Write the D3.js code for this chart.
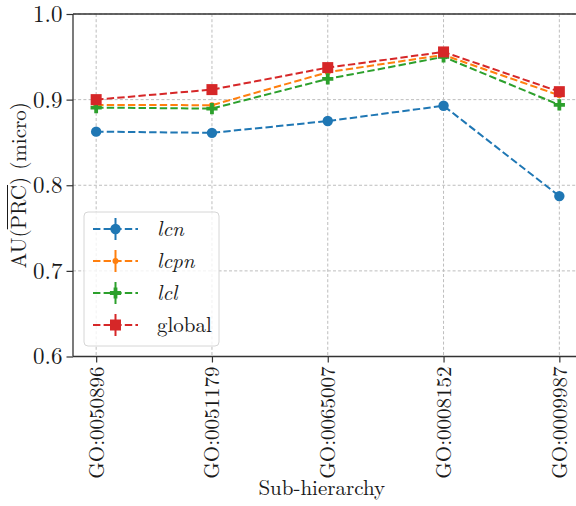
<!DOCTYPE html>
<html>
<head>
<meta charset="utf-8">
<script src="https://cdn.jsdelivr.net/npm/d3@7"></script>
<style>
  body { margin: 0; background: #fff; }
</style>
</head>
<body>
<div id="chart"></div>
<script>
const categories = ['GO:0050896', 'GO:0051179', 'GO:0065007', 'GO:0008152', 'GO:0009987'];
const lcnValues = [0.8626, 0.8612, 0.8750, 0.8928, 0.7873];
const lcpnValues = [0.8938, 0.8935, 0.9320, 0.9522, 0.9050];
const lclValues = [0.8907, 0.8895, 0.9242, 0.9499, 0.8938];
const globalValues = [0.9000, 0.9117, 0.9374, 0.9557, 0.9093];
const yTicks = [0.6, 0.7, 0.8, 0.9, 1.0];

const series = [
  { name: 'lcn', italic: true, color: '#1f77b4', marker: 'circle', values: lcnValues },
  { name: 'lcpn', italic: true, color: '#ff7f0e', marker: 'point', values: lcpnValues },
  { name: 'lcl', italic: true, color: '#2ca02c', marker: 'plus', values: lclValues },
  { name: 'global', italic: false, color: '#d62728', marker: 'square', values: globalValues }
];

const FONT = "'Latin Modern Roman', 'CMU Serif', 'Liberation Serif', serif";
const FS = '21px';
const TEXT = '#1a1a1a';

const width = 576;
const height = 506;
const margin = { top: 14, left: 73 };
const plotRight = 582.5;
const plotBottom = 356.5;

const svg = d3.select('#chart').append('svg')
  .attr('width', width)
  .attr('height', height);

const x = d3.scaleLinear()
  .domain([-0.2, categories.length - 1 + 0.2])
  .range([margin.left, plotRight]);
const y = d3.scaleLinear()
  .domain([0.6, 1.0])
  .range([plotBottom, margin.top]);

function styleText(sel) {
  sel.style('font-family', FONT).style('font-size', FS).style('fill', TEXT);
}

// grid
const grid = svg.append('g');
grid.selectAll('.vg')
  .data(categories)
  .join('line')
  .attr('x1', (d, i) => x(i)).attr('x2', (d, i) => x(i))
  .attr('y1', margin.top).attr('y2', plotBottom);
grid.selectAll('.hg')
  .data(yTicks)
  .join('line')
  .attr('x1', margin.left).attr('x2', plotRight)
  .attr('y1', d => y(d)).attr('y2', d => y(d));
grid.selectAll('line')
  .attr('stroke', '#bdbdbd')
  .attr('stroke-width', 1)
  .attr('stroke-dasharray', '3,2.2');

// axes
const yAxis = svg.append('g')
  .attr('transform', `translate(${margin.left},0)`)
  .call(d3.axisLeft(y).tickValues(yTicks).tickFormat(d3.format('.1f')).tickSize(6.5).tickPadding(4));
const xAxis = svg.append('g')
  .attr('transform', `translate(0,${plotBottom})`)
  .call(d3.axisBottom(x).tickValues(d3.range(categories.length)).tickFormat(i => categories[i]).tickSize(6));

[yAxis, xAxis].forEach(ax => {
  ax.select('.domain').remove();
  ax.selectAll('.tick line').attr('stroke', '#333').attr('stroke-width', 1.2);
  ax.selectAll('text').call(styleText);
});
yAxis.selectAll('text').attr('dy', '0.32em').style('font-size', '23px');
xAxis.selectAll('text')
  .attr('transform', 'rotate(-90)')
  .attr('text-anchor', 'end')
  .attr('x', -10)
  .attr('y', 0)
  .attr('dy', '0.33em');

// spines
const spines = svg.append('g')
  .attr('stroke', '#333')
  .attr('stroke-width', 1.3);
spines.append('line')
  .attr('x1', margin.left).attr('x2', margin.left)
  .attr('y1', margin.top).attr('y2', plotBottom);
spines.append('line')
  .attr('x1', margin.left).attr('x2', width)
  .attr('y1', margin.top).attr('y2', margin.top);
spines.append('line')
  .attr('x1', margin.left).attr('x2', width)
  .attr('y1', plotBottom).attr('y2', plotBottom);

// markers
function drawMarker(sel, type, color) {
  if (type === 'circle') {
    sel.append('circle').attr('r', 5.2).attr('fill', color);
  } else if (type === 'point') {
    sel.append('circle').attr('r', 3).attr('fill', color);
  } else if (type === 'square') {
    sel.append('rect').attr('x', -5.5).attr('y', -5.5).attr('width', 11).attr('height', 11).attr('fill', color);
  } else if (type === 'plus') {
    sel.append('path')
      .attr('d', 'M-1.9,-5.6H1.9V-1.9H5.6V1.9H1.9V5.6H-1.9V1.9H-5.6V-1.9H-1.9Z')
      .attr('fill', color);
  }
}

const line = d3.line()
  .x((d, i) => x(i))
  .y(d => y(d));

const plot = svg.append('g');
series.forEach(s => {
  const g = plot.append('g');
  g.append('path')
    .datum(s.values)
    .attr('d', line)
    .attr('fill', 'none')
    .attr('stroke', s.color)
    .attr('stroke-width', 2)
    .attr('stroke-dasharray', '7.4,3.2');
  g.selectAll('.pt')
    .data(s.values)
    .join('g')
    .attr('transform', (d, i) => `translate(${x(i)},${y(d)})`)
    .each(function() { drawMarker(d3.select(this), s.marker, s.color); });
});

// legend
const legend = svg.append('g').attr('transform', 'translate(84,212)');
legend.append('rect')
  .attr('width', 135).attr('height', 134)
  .attr('rx', 4)
  .attr('fill', '#fff').attr('fill-opacity', 0.8)
  .attr('stroke', '#d6d6d6').attr('stroke-width', 1);
series.forEach((s, i) => {
  const row = legend.append('g').attr('transform', `translate(0,${17 + i * 32})`);
  row.append('line')
    .attr('x1', 9).attr('x2', 54)
    .attr('stroke', s.color).attr('stroke-width', 2)
    .attr('stroke-dasharray', '7.4,3.2');
  row.append('line')
    .attr('x1', 31.5).attr('x2', 31.5).attr('y1', -11).attr('y2', 11)
    .attr('stroke', s.color).attr('stroke-width', 2);
  drawMarker(row.append('g').attr('transform', 'translate(31.5,0)'), s.marker, s.color);
  row.append('text')
    .attr('x', 73).attr('dy', '0.33em')
    .call(styleText)
    .style('font-style', s.italic ? 'italic' : 'normal')
    .text(s.name);
});

// axis labels
svg.append('text')
  .attr('x', (margin.left + plotRight) / 2 - 6)
  .attr('y', 495)
  .attr('text-anchor', 'middle')
  .call(styleText)
  .text('Sub-hierarchy');

const ylPos = `translate(26,${(margin.top + plotBottom) / 2}) rotate(-90)`;
const yl = svg.append('text')
  .attr('transform', ylPos)
  .attr('text-anchor', 'middle')
  .call(styleText);
yl.append('tspan').text('AU(');
yl.append('tspan').text('PRC');
yl.append('tspan').text(') (micro)');

// overline over PRC
const bar = svg.append('line')
  .attr('transform', ylPos)
  .attr('y1', -18.5).attr('y2', -18.5)
  .attr('stroke', TEXT).attr('stroke-width', 1);
function placeBar() {
  const node = yl.node();
  const total = node.getComputedTextLength();
  const start = node.getSubStringLength(0, 3);
  const len = node.getSubStringLength(3, 3);
  bar.attr('x1', -total / 2 + start).attr('x2', -total / 2 + start + len);
}
placeBar();
if (document.fonts) document.fonts.ready.then(placeBar);
</script>
</body>
</html>
